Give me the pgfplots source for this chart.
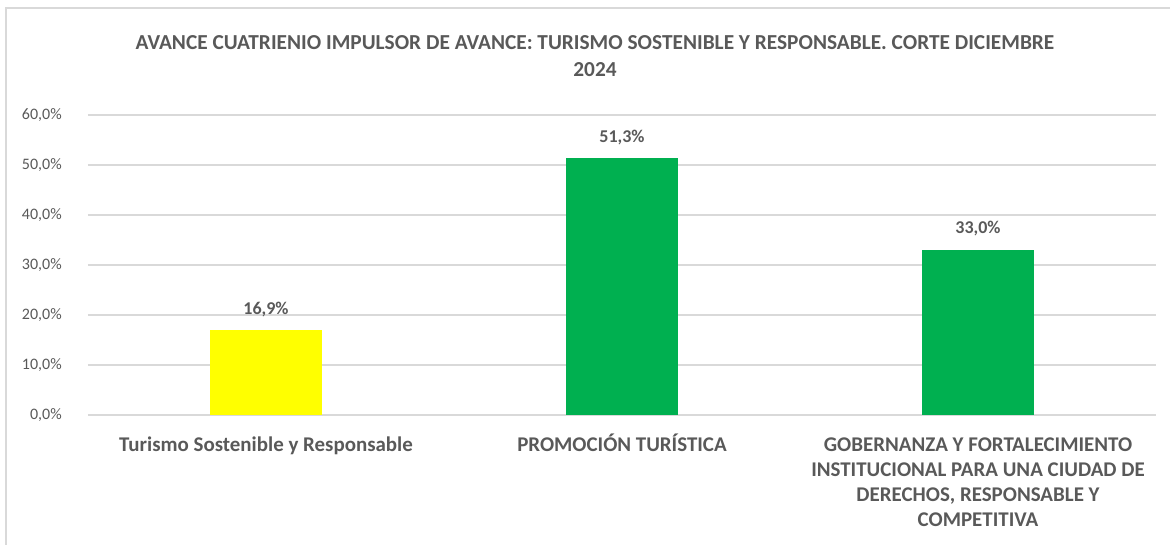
\documentclass[border=0pt]{standalone}
\usepackage{pgfplots}
\pgfplotsset{compat=1.18}
\usepackage{fontspec}
\setmainfont{Carlito}
\definecolor{txt}{HTML}{595959}
\definecolor{grd}{HTML}{D9D9D9}
\definecolor{ybarc}{HTML}{FFFF00}
\definecolor{gbarc}{HTML}{00B050}
\begin{document}
\begin{tikzpicture}[x=0.75pt,y=0.75pt]
\useasboundingbox (0,0) rectangle (1170,545);
\draw[grd, line width=0.9pt] (6,0) -- (6,537) -- (1170,537);
\node[font=\fontsize{16}{19}\selectfont\bfseries, text=txt, inner sep=0pt] at (595,502.5) {AVANCE CUATRIENIO IMPULSOR DE AVANCE: TURISMO SOSTENIBLE Y RESPONSABLE. CORTE DICIEMBRE};
\node[font=\fontsize{16}{19}\selectfont\bfseries, text=txt, inner sep=0pt] at (595,475) {2024};
\begin{axis}[
  at={(66pt,97.5pt)}, anchor=south west,
  width=801pt, height=225pt, scale only axis,
  xmin=-0.5, xmax=2.5, ymin=0, ymax=60,
  ybar, bar width=84pt, bar shift=0pt,
  xtick={0,1,2},
  xticklabels={{\strut Turismo Sostenible y Responsable},{\strut PROMOCIÓN TURÍSTICA},{\strut GOBERNANZA Y FORTALECIMIENTO\\INSTITUCIONAL PARA UNA CIUDAD DE\\DERECHOS, RESPONSABLE Y\\COMPETITIVA}},
  ytick={0,10,20,30,40,50,60},
  yticklabels={{0,0\%},{10,0\%},{20,0\%},{30,0\%},{40,0\%},{50,0\%},{60,0\%}},
  axis line style={draw=none},
  major tick length=0pt,
  ymajorgrids, major grid style={grd, line width=0.9pt},
  yticklabel style={font=\fontsize{12}{14}\selectfont, text=txt, anchor=east, inner sep=0pt, xshift=-19.5pt},
  xticklabel style={font=\fontsize{15.7}{18.75}\selectfont\bfseries, text=txt, anchor=north, inner sep=0pt, yshift=-14pt, align=center},
  /pgf/number format/assume math mode=true,
  nodes near coords={\pgfmathprintnumber[fixed, fixed zerofill, precision=1, use comma, assume math mode=true]{\pgfplotspointmeta}\%},
  every node near coord/.append style={font=\fontsize{13.5}{16}\selectfont\bfseries, text=txt, anchor=center, yshift=16pt},
  clip=false,
]
\addplot[fill=ybarc, draw=none] coordinates {(0,16.9)};
\addplot[fill=gbarc, draw=none] coordinates {(1,51.3)};
\addplot[fill=gbarc, draw=none] coordinates {(2,33.0)};
\end{axis}
\end{tikzpicture}
\end{document}
